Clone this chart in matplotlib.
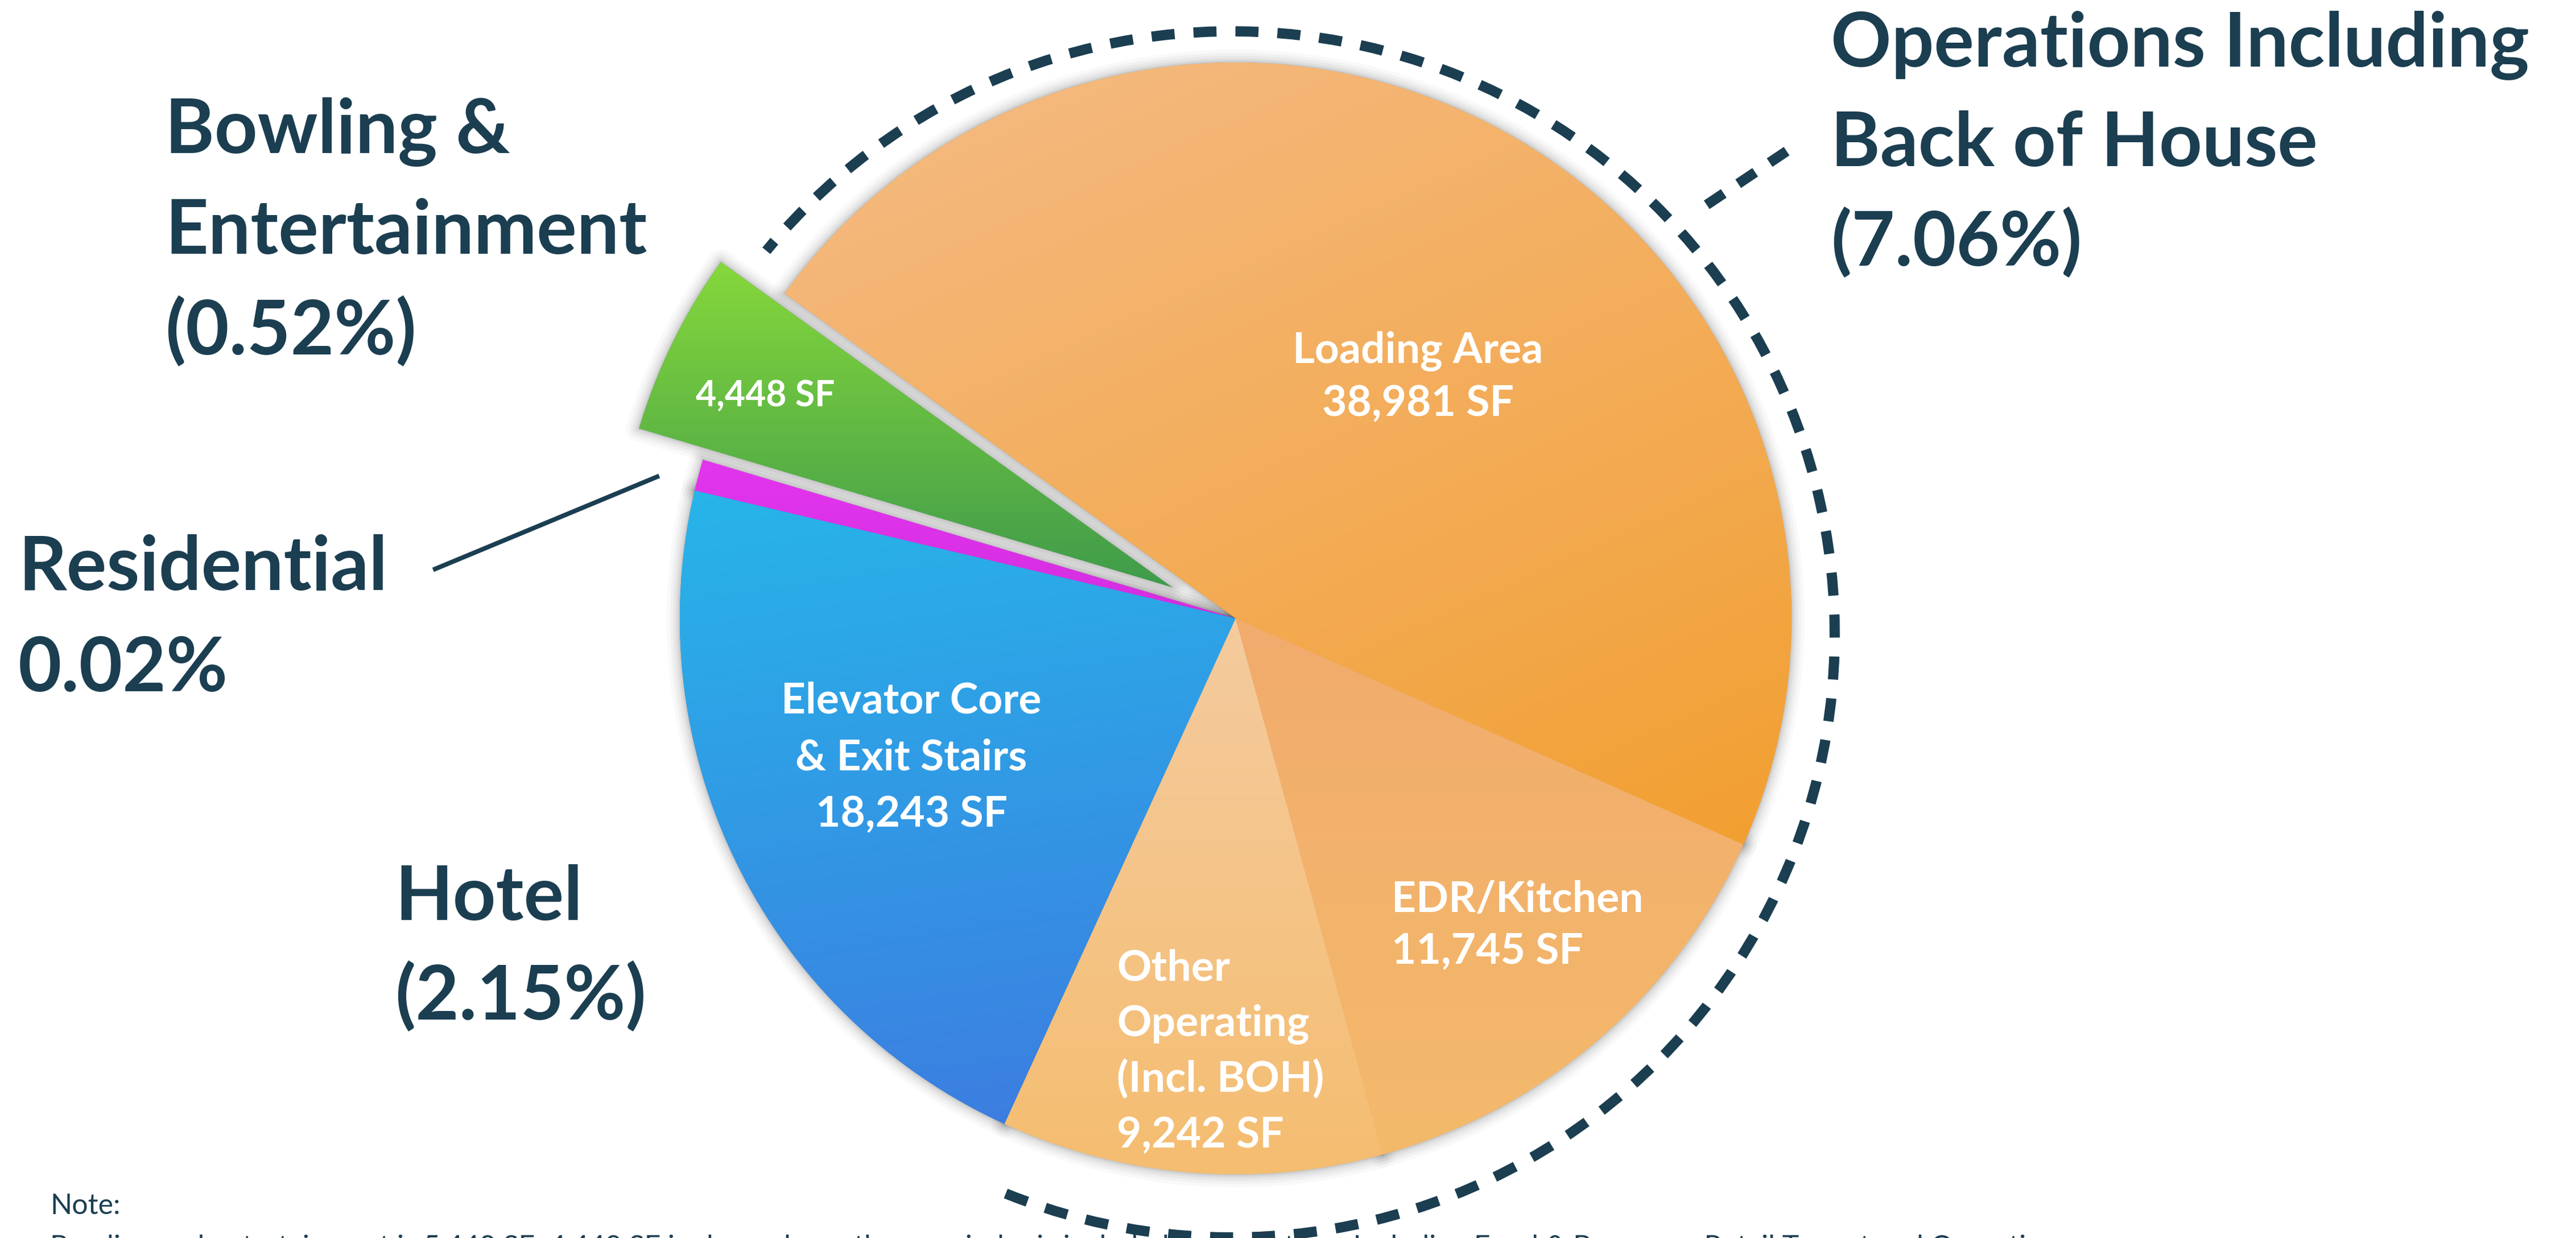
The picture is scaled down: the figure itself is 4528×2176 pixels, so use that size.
import numpy as np
import matplotlib
matplotlib.use("Agg")
import matplotlib.pyplot as plt
from matplotlib.patches import Wedge, Arc
from matplotlib.colors import to_rgb

# ---------------- data ----------------
segments = ["Loading Area", "Bowling & Entertainment", "Residential",
            "Elevator Core & Exit Stairs", "Other Operating (Incl. BOH)", "EDR/Kitchen"]
square_feet = [38981, 4448, 760, 18243, 9242, 11745]
wedge_texts = [["Loading Area", "38,981 SF"],
               ["4,448 SF"],
               [],
               ["Elevator Core", "& Exit Stairs", "18,243 SF"],
               ["Other", "Operating", "(Incl. BOH)", "9,242 SF"],
               ["EDR/Kitchen", "11,745 SF"]]
group_texts = [["Operations Including", "Back of House", "(7.06%)"],
               ["Bowling &", "Entertainment", "(0.52%)"],
               ["Residential", "0.02%"],
               ["Hotel", "(2.15%)"]]
note_texts = ["Note:",
              "Bowling and entertainment is 5,448 SF; 4,448 SF is shown here, the remainder is included in Operations Including Food & Beverage, Retail Tenant and Operating areas."]

# ---------------- style ----------------
W, H = 4528, 2176
DPI = 100
NAVY = "#1B3E51"
grad_colors = [("#F5BC87", "#F29F30"),   # loading
               ("#86D83B", "#3F9B4B"),   # bowling
               ("#E236EE", "#D42DE0"),   # residential
               ("#27B5E9", "#3D7BE0"),   # elevator
               ("#F4CB9F", "#F5BD70"),   # other operating
               ("#F1AB6D", "#F4BA6B")]   # EDR
grad_dirs = [(0.45, -1.0), (0.0, -1.0), (0.0, -1.0), (0.15, -1.0), (0.0, -1.0), (0.0, -1.0)]
explode_px = [0, 125, 0, 0, 0, 0]
CX, CY, R = 2172, 1087, 977
DCX, DCY, DR = 2165, 1115, 1060

plt.rcParams["font.family"] = ["Lato", "DejaVu Sans"]

fig = plt.figure(figsize=(W / DPI, H / DPI), dpi=DPI)
ax = fig.add_axes([0, 0, 1, 1])


def Y(y):
    return H - y


def px2pt(p):
    return p * 72.0 / DPI


wedges, _ = ax.pie(square_feet, radius=R, center=(CX, Y(CY)), startangle=-24,
                   counterclock=True, explode=explode_px,
                   colors=[c[1] for c in grad_colors],
                   wedgeprops=dict(linewidth=0, zorder=3))

# soft shadow around every wedge
for w in wedges:
    for lwp, a in [(46, 0.025), (34, 0.03), (24, 0.035), (15, 0.04), (8, 0.05), (3, 0.06)]:
        s = Wedge(w.center, w.r, w.theta1, w.theta2, facecolor="none",
                  edgecolor="black", linewidth=px2pt(lwp), alpha=a, zorder=1,
                  joinstyle="round")
        ax.add_patch(s)

# gradient fills clipped to wedges
n = 220
gx, gy = np.meshgrid(np.linspace(0, 1, n), np.linspace(1, 0, n))
for w, (c1, c2), d in zip(wedges, grad_colors, grad_dirs):
    ext = w.get_path().get_extents()
    dx, dy = d
    t = (gx - 0.5) * dx * ext.width + (gy - 0.5) * dy * ext.height
    t = (t - t.min()) / (t.max() - t.min() + 1e-9)
    a1, a2 = np.array(to_rgb(c1)), np.array(to_rgb(c2))
    img = a1[None, None, :] * (1 - t[..., None]) + a2[None, None, :] * t[..., None]
    im = ax.imshow(img, extent=(ext.x0, ext.x1, ext.y0, ext.y1), origin="upper",
                   aspect="auto", interpolation="bilinear", zorder=4)
    im.set_clip_path(w)

# dashed arc around operations group
dash = (0, (2.25, 1.85))
arc = Arc((DCX, Y(DCY)), 2 * DR, 2 * DR, theta1=-112, theta2=140.5,
          color=NAVY, linewidth=px2pt(18), linestyle=dash, zorder=5)
ax.add_patch(arc)
ax.plot([3000, 3158], [Y(360), Y(254)], color=NAVY, linewidth=px2pt(18),
        linestyle=(0, (2.0, 1.7)), zorder=5, solid_capstyle="butt")

# residential leader
ax.plot([765, 1155], [Y(1000), Y(838)], color=NAVY, linewidth=px2pt(8), zorder=5)

# wedge labels: (x, first baseline, line step, ha, size)
wedge_pos = [(2492, 638, 93, "center", 54),
             (1345, 714, 93, "center", 45),
             None,
             (1602, 1253, 100, "center", 54),
             (1963, 1723, 98, "left", 54),
             (2446, 1603, 91, "left", 54)]
for lines, pos in zip(wedge_texts, wedge_pos):
    if pos is None:
        continue
    x, y0, step, ha, fs = pos
    for i, ln in enumerate(lines):
        ax.text(x, Y(y0 + i * step), ln, color="white", fontsize=fs,
                fontweight="bold", ha=ha, va="baseline", zorder=6)

# group labels
group_pos = [(3218, 117, 175), (290, 269, 177), (32, 1037, 178), (694, 1617, 175)]
for lines, (x, y0, step) in zip(group_texts, group_pos):
    for i, ln in enumerate(lines):
        ax.text(x, Y(y0 + i * step), ln, color=NAVY, fontsize=95,
                fontweight="bold", ha="left", va="baseline", zorder=6)

# note
ax.text(88, Y(2134), note_texts[0], color=NAVY, fontsize=36, fontweight="normal",
        ha="left", va="baseline")
ax.text(88, Y(2206), note_texts[1], color=NAVY, fontsize=36, fontweight="normal",
        ha="left", va="baseline")

ax.set_xlim(0, W)
ax.set_ylim(0, H)
ax.set_aspect("equal")
ax.axis("off")
fig.savefig("out.png", dpi=DPI, facecolor="white")
